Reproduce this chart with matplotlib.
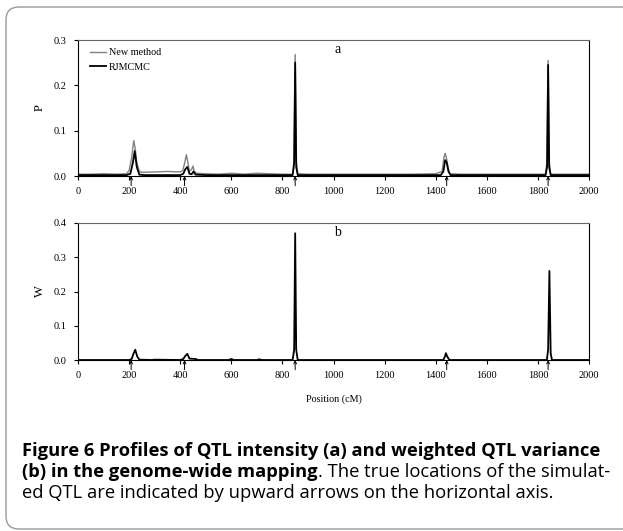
"""Figure 6: QTL intensity (a) and weighted QTL variance (b) along the genome"""

import matplotlib
matplotlib.use("Agg")
import matplotlib.pyplot as plt
from matplotlib.patches import FancyBboxPatch
from matplotlib.transforms import IdentityTransform

# panel a, new method (grey)
pos_new = [0, 50, 100, 150, 190, 200, 210, 218, 224, 230, 240, 250, 300, 350, 400,
           410, 418, 424, 430, 436, 445, 450, 455, 465, 500, 550, 600, 650, 700, 750,
           800, 840, 845, 850, 855, 860, 900, 1000, 1100, 1200, 1300, 1400, 1425, 1432,
           1437, 1442, 1448, 1455, 1500, 1600, 1700, 1800, 1830, 1835, 1840, 1845, 1850,
           1900, 2000]
p_new = [0.004, 0.004, 0.005, 0.004, 0.005, 0.012, 0.040, 0.078, 0.060, 0.030, 0.010,
         0.008, 0.009, 0.010, 0.009, 0.012, 0.030, 0.047, 0.030, 0.010, 0.015, 0.022,
         0.010, 0.006, 0.005, 0.004, 0.006, 0.004, 0.006, 0.005, 0.004, 0.004, 0.020,
         0.268, 0.030, 0.005, 0.004, 0.004, 0.004, 0.004, 0.004, 0.005, 0.010, 0.040,
         0.050, 0.040, 0.020, 0.005, 0.004, 0.004, 0.004, 0.004, 0.004, 0.030, 0.255,
         0.030, 0.004, 0.004, 0.004]

# panel a, RJMCMC (black)
pos_rj = [0, 190, 205, 215, 222, 230, 240, 260, 400, 412, 420, 428, 436, 445, 452, 460,
          500, 840, 846, 850, 854, 860, 1420, 1430, 1437, 1443, 1450, 1458, 1830, 1836,
          1840, 1844, 1850, 2000]
p_rj = [0.002, 0.002, 0.005, 0.030, 0.055, 0.020, 0.003, 0.002, 0.002, 0.005, 0.015,
        0.020, 0.005, 0.004, 0.010, 0.003, 0.002, 0.002, 0.030, 0.250, 0.020, 0.002,
        0.002, 0.010, 0.035, 0.030, 0.010, 0.002, 0.002, 0.020, 0.245, 0.020, 0.002,
        0.002]

# panel b, weighted QTL variance
pos_w = [0, 200, 210, 218, 224, 232, 240, 290, 300, 400, 412, 420, 428, 436, 460, 470,
         590, 600, 610, 700, 710, 720, 840, 846, 850, 854, 860, 1430, 1436, 1440, 1444,
         1450, 1455, 1835, 1840, 1845, 1850, 1855, 2000]
w = [0.0, 0.0, 0.003, 0.020, 0.030, 0.010, 0.001, 0.0, 0.001, 0.0, 0.003, 0.012, 0.018,
     0.004, 0.003, 0.0, 0.0, 0.003, 0.0, 0.0, 0.002, 0.0, 0.0, 0.030, 0.370, 0.030, 0.0,
     0.0, 0.010, 0.020, 0.012, 0.004, 0.0, 0.0, 0.030, 0.260, 0.020, 0.0, 0.0]

# true QTL locations (arrows)
true_qtl = [208, 417, 850, 1443, 1840]

W_PX, H_PX = 623, 531
fig = plt.figure(figsize=(W_PX / 100, H_PX / 100), dpi=100)

serif = ["Liberation Serif", "DejaVu Serif"]


def box(l, t, r, b):
    return [l / W_PX, 1 - b / H_PX, (r - l) / W_PX, (b - t) / H_PX]


ax_a = fig.add_axes(box(78, 40, 589, 176))
ax_b = fig.add_axes(box(78, 223, 589, 360))


def style(ax, ymax, label, panel):
    ax.set_xlim(0, 2000)
    ax.set_ylim(0, ymax)
    ax.set_xticks(range(0, 2001, 200))
    ax.set_yticks([i / 10 for i in range(int(round(ymax * 10)) + 1)])
    ax.yaxis.set_major_formatter(matplotlib.ticker.FormatStrFormatter("%.1f"))
    ax.tick_params(direction="out", length=3, width=0.8, labelsize=7.5, pad=5)
    for t in ax.get_xticklabels() + ax.get_yticklabels():
        t.set_family(serif)
    for s in ax.spines.values():
        s.set_linewidth(0.8)
    ax.spines["top"].set_color("#666666")
    ax.set_ylabel(label, family=serif, fontsize=9, labelpad=6)
    ax.text(0.508, 0.93, panel, transform=ax.transAxes, family=serif, fontsize=10,
            ha="center", va="center")
    for q in true_qtl:
        ax.annotate("", xy=(q, 0), xytext=(0, -7), textcoords="offset points",
                    annotation_clip=False,
                    arrowprops=dict(arrowstyle="->", lw=0.7, color="black",
                                    shrinkA=0, shrinkB=0, mutation_scale=5))


ax_a.plot(pos_new, p_new, color="#808080", lw=1.0, label="New method")
ax_a.plot(pos_rj, p_rj, color="black", lw=1.3, label="RJMCMC")
style(ax_a, 0.3, "P", "a")
ax_a.legend(loc="upper left", bbox_to_anchor=(0.015, 0.97), frameon=False,
            handlelength=1.6, handletextpad=0.3, labelspacing=0.55, borderaxespad=0,
            prop=dict(family=serif, size=7.3))

ax_b.plot(pos_w, w, color="black", lw=1.3)
style(ax_b, 0.4, "W", "b")
ax_b.set_xlabel("Position (cM)", family=serif, fontsize=7.3, labelpad=10)

# rounded frame around the figure (pixel coordinates, right edge off the canvas)
frame = FancyBboxPatch((6, H_PX - 529), 640, 522,
                       boxstyle="round,pad=0,rounding_size=13",
                       transform=IdentityTransform(), fill=False, ec="#999999", lw=1.0)
fig.patches.append(frame)

# caption
cap = ["Open Sans", "DejaVu Sans"]
fs = 13.2
x0 = 22 / W_PX
y1 = 1 - 456 / H_PX
y2 = 1 - 477 / H_PX
y3 = 1 - 498 / H_PX
fig.text(x0, y1, "Figure 6 Profiles of QTL intensity (a) and weighted QTL variance",
         family=cap, weight="bold", fontsize=fs, va="baseline")
t2 = fig.text(x0, y2, "(b) in the genome-wide mapping", family=cap,
              weight="bold", fontsize=fs, va="baseline")
fig.canvas.draw()
bb = t2.get_window_extent()
fig.text(bb.x1 / fig.bbox.width, y2, ". The true locations of the simulat-", family=cap,
         fontsize=fs, va="baseline")
fig.text(x0, y3, "ed QTL are indicated by upward arrows on the horizontal axis.",
         family=cap, fontsize=fs, va="baseline")

fig.savefig("out.png", dpi=100)
